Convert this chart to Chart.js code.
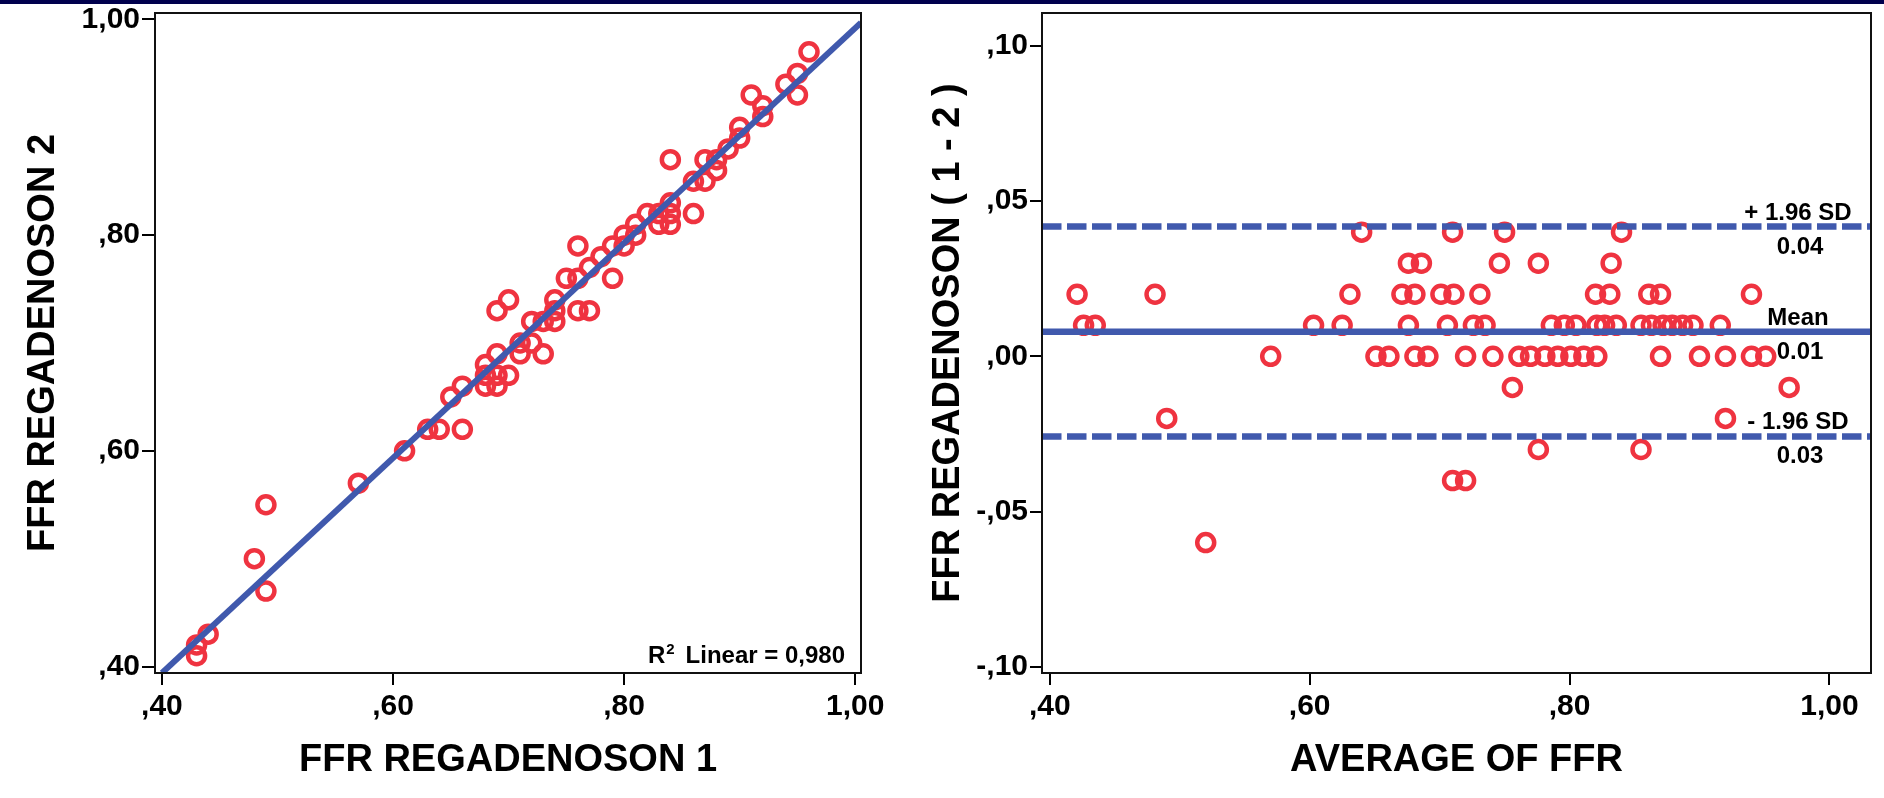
<!DOCTYPE html>
<html>
<head>
<meta charset="utf-8">
<script src="https://cdn.jsdelivr.net/npm/chart.js@4.4.1/dist/chart.umd.min.js"></script>
<style>
  body { margin: 0; width: 1884px; height: 798px; overflow: hidden; background: #fff; position: relative; }
  #left { position: absolute; left: 0; top: 0; }
  #right { position: absolute; left: 900px; top: 0; }
  #bar { position: absolute; left: 0; top: 0; width: 1884px; height: 4px; background: #00004d; }
</style>
</head>
<body>
<canvas id="left" width="900" height="798"></canvas>
<canvas id="right" width="984" height="798"></canvas>
<div id="bar"></div>
<script>
// scatter: FFR regadenoson 1 vs 2
const ffr1 = [0.43, 0.43, 0.44, 0.48, 0.49, 0.49, 0.57, 0.61, 0.63, 0.64,
              0.66, 0.65, 0.66, 0.68, 0.68, 0.68, 0.69, 0.69, 0.69, 0.70,
              0.69, 0.70, 0.71, 0.71, 0.72, 0.73, 0.72, 0.73, 0.74, 0.74,
              0.74, 0.75, 0.76, 0.77, 0.76, 0.76, 0.77, 0.78, 0.79, 0.79,
              0.80, 0.80, 0.81, 0.81, 0.82, 0.83, 0.83, 0.84, 0.84, 0.84,
              0.86, 0.84, 0.86, 0.87, 0.87, 0.88, 0.88, 0.89, 0.90, 0.90,
              0.92, 0.91, 0.92, 0.94, 0.95, 0.95, 0.96];
const ffr2 = [0.41, 0.42, 0.43, 0.50, 0.47, 0.55, 0.57, 0.60, 0.62, 0.62,
              0.62, 0.65, 0.66, 0.66, 0.67, 0.68, 0.66, 0.67, 0.69, 0.67,
              0.73, 0.74, 0.69, 0.70, 0.70, 0.69, 0.72, 0.72, 0.72, 0.73,
              0.74, 0.76, 0.73, 0.73, 0.76, 0.79, 0.77, 0.78, 0.76, 0.79,
              0.79, 0.80, 0.80, 0.81, 0.82, 0.81, 0.82, 0.82, 0.83, 0.81,
              0.82, 0.87, 0.85, 0.85, 0.87, 0.86, 0.87, 0.88, 0.89, 0.90,
              0.91, 0.93, 0.92, 0.94, 0.93, 0.95, 0.97];
const fitLineX = [0.40, 1.005];
const fitLineY = [0.394, 0.997];
const r2Parts = ["R", "2", "Linear = 0,980"];

// Bland-Altman: average vs difference
const avgFFR = [0.640, 0.710, 0.750, 0.840,
                0.676, 0.686, 0.746, 0.776, 0.832,
                0.421, 0.481, 0.631, 0.671, 0.681, 0.701, 0.711, 0.731, 0.820, 0.831, 0.861, 0.870, 0.940,
                0.426, 0.435, 0.603, 0.625, 0.676, 0.706, 0.726, 0.735, 0.786, 0.796, 0.805, 0.821, 0.827,
                0.836, 0.855, 0.863, 0.872, 0.879, 0.887, 0.895, 0.916,
                0.570, 0.651, 0.661, 0.681, 0.691, 0.720, 0.741, 0.761, 0.770, 0.781, 0.791, 0.801, 0.811,
                0.821, 0.870, 0.900, 0.920, 0.940, 0.951,
                0.756, 0.969,
                0.490, 0.920,
                0.776, 0.855,
                0.710, 0.720,
                0.520];
const diffFFR = [0.04, 0.04, 0.04, 0.04,
                 0.03, 0.03, 0.03, 0.03, 0.03,
                 0.02, 0.02, 0.02, 0.02, 0.02, 0.02, 0.02, 0.02, 0.02, 0.02, 0.02, 0.02, 0.02,
                 0.01, 0.01, 0.01, 0.01, 0.01, 0.01, 0.01, 0.01, 0.01, 0.01, 0.01, 0.01, 0.01,
                 0.01, 0.01, 0.01, 0.01, 0.01, 0.01, 0.01, 0.01,
                 0, 0, 0, 0, 0, 0, 0, 0, 0, 0, 0, 0, 0,
                 0, 0, 0, 0, 0, 0,
                 -0.01, -0.01,
                 -0.02, -0.02,
                 -0.03, -0.03,
                 -0.04, -0.04,
                 -0.06];
const loaLines = [0.0418, 0.0079, -0.0258];
const loaNames = ["+ 1.96 SD", "Mean", "- 1.96 SD"];
const loaValues = ["0.04", "0.01", "0.03"];

// axes
const ffrTicks = [0.40, 0.60, 0.80, 1.00];
const ffrTickLabels = [",40", ",60", ",80", "1,00"];
const diffTicks = [-0.10, -0.05, 0.00, 0.05, 0.10];
const diffTickLabels = ["-,10", "-,05", ",00", ",05", ",10"];
const leftXRange = [0.394, 1.005];
const leftYRange = [0.394, 1.006];
const rightXRange = [0.394, 1.032];
const rightYRange = [-0.102, 0.1106];

const RED = "#ef3340";
const BLUE = "#4059ad";
const FONT = "'Liberation Sans', Arial, sans-serif";

Chart.defaults.font.family = FONT;
Chart.defaults.color = "#000";

function axis(pos, range, tickVals, tickLabels, title, size, titlePad, tickLen, tickPad) {
    return {
        type: "linear",
        position: pos,
        min: range[0],
        max: range[1],
        afterBuildTicks: s => { s.ticks = tickVals.map(v => ({ value: v })); },
        afterFit: s => {
            if (pos === "left") s.width = size; else s.height = size;
            s.paddingTop = 0; s.paddingBottom = 0; s.paddingLeft = 0; s.paddingRight = 0;
        },
        ticks: {
            callback: (v, i) => tickLabels[i],
            font: { size: 30, weight: "bold" },
            color: "#000",
            padding: tickPad,
            autoSkip: false,
            maxRotation: 0
        },
        grid: { drawOnChartArea: false, tickLength: tickLen, lineWidth: 2, tickWidth: 2, color: "#000" },
        border: { display: true, color: "#000", width: 2 },
        title: {
            display: true,
            text: title,
            font: { size: 38, weight: "bold" },
            color: "#000",
            padding: { top: titlePad, bottom: titlePad }
        }
    };
}

// box round the plot area
const boxPlugin = {
    id: "box",
    afterDraw(chart) {
        const { ctx, chartArea: a } = chart;
        ctx.save();
        ctx.strokeStyle = "#111";
        ctx.lineWidth = 2;
        ctx.strokeRect(a.left, a.top, a.right - a.left, a.bottom - a.top);
        ctx.restore();
    }
};

// "R2 Linear = ..." with a raised 2, right-aligned in the corner
const r2Plugin = {
    id: "r2",
    afterDraw(chart) {
        const { ctx, chartArea: a } = chart;
        const big = "bold 24px " + FONT, small = "bold 15px " + FONT;
        ctx.save();
        ctx.fillStyle = "#000";
        ctx.textBaseline = "alphabetic";
        ctx.font = big;
        const wR = ctx.measureText(r2Parts[0]).width;
        const wRest = ctx.measureText(r2Parts[2]).width;
        ctx.font = small;
        const wSup = ctx.measureText(r2Parts[1]).width;
        const gap = 11;
        const base = a.bottom - 10;
        let x = a.right - 17 - (wR + wSup + gap + wRest);
        ctx.font = big;
        ctx.fillText(r2Parts[0], x, base);
        x += wR + 1;
        ctx.font = small;
        ctx.fillText(r2Parts[1], x, base - 9);
        x += wSup + gap;
        ctx.font = big;
        ctx.fillText(r2Parts[2], x, base);
        ctx.restore();
    }
};

const loaPlugin = {
    id: "loa",
    afterDraw(chart) {
        const { ctx, chartArea: a } = chart;
        const y = chart.scales.y;
        ctx.save();
        ctx.font = "bold 24px " + FONT;
        ctx.fillStyle = "#000";
        ctx.textAlign = "center";
        ctx.textBaseline = "alphabetic";
        loaLines.forEach((v, i) => {
            const py = y.getPixelForValue(v);
            ctx.fillText(loaNames[i], a.right - 73, py - 7);
            ctx.fillText(loaValues[i], a.right - 71, py + 27);
        });
        ctx.restore();
    }
};

const common = {
    responsive: false,
    animation: false,
    events: [],
    plugins: { legend: { display: false }, tooltip: { enabled: false } }
};

new Chart(document.getElementById("left").getContext("2d"), {
    type: "scatter",
    data: {
        datasets: [{
            type: "line",
            data: fitLineX.map((x, i) => ({ x, y: fitLineY[i] })),
            borderColor: BLUE,
            borderWidth: 6,
            pointRadius: 0,
            fill: false
        }, {
            data: ffr1.map((x, i) => ({ x, y: ffr2[i] })),
            pointStyle: "circle",
            pointRadius: 8.5,
            pointBorderWidth: 4.5,
            pointBorderColor: RED,
            pointBackgroundColor: "rgba(0,0,0,0)"
        }]
    },
    options: {
        ...common,
        layout: { padding: { left: 0, top: 11, right: 39, bottom: 0 } },
        scales: {
            x: axis("bottom", leftXRange, ffrTicks, ffrTickLabels, "FFR REGADENOSON 1", 125, 15, 12, 4),
            y: axis("left", leftYRange, ffrTicks, ffrTickLabels, "FFR REGADENOSON 2", 155, 21, 13, 2)
        }
    },
    plugins: [boxPlugin, r2Plugin]
});

const loaDatasets = loaLines.map((v, i) => ({
    type: "line",
    data: rightXRange.map(x => ({ x, y: v })),
    borderColor: BLUE,
    borderWidth: 6.5,
    borderDash: i === 1 ? [] : [19.5, 5.5],
    pointRadius: 0,
    fill: false
}));

new Chart(document.getElementById("right").getContext("2d"), {
    type: "scatter",
    data: {
        datasets: [...loaDatasets, {
            data: avgFFR.map((x, i) => ({ x, y: diffFFR[i] })),
            pointStyle: "circle",
            pointRadius: 8.5,
            pointBorderWidth: 4.5,
            pointBorderColor: RED,
            pointBackgroundColor: "rgba(0,0,0,0)"
        }]
    },
    options: {
        ...common,
        layout: { padding: { left: 0, top: 11, right: 1, bottom: 0 } },
        scales: {
            x: axis("bottom", rightXRange, ffrTicks, ffrTickLabels, "AVERAGE OF FFR", 125, 15, 12, 4),
            y: axis("left", rightYRange, diffTicks, diffTickLabels, "FFR REGADENOSON ( 1 - 2 )", 142, 26, 12, 2)
        }
    },
    plugins: [boxPlugin, loaPlugin]
});
</script>
</body>
</html>
